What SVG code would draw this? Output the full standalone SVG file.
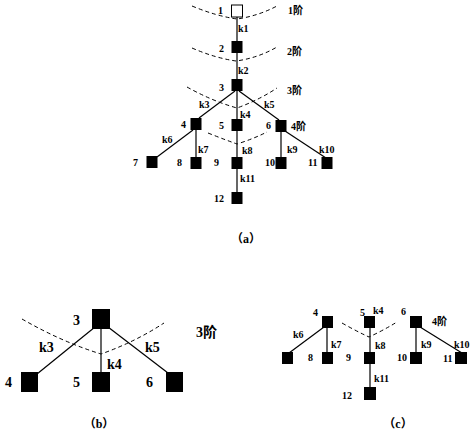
<svg xmlns="http://www.w3.org/2000/svg" width="474" height="435" viewBox="0 0 474 435">
<style>
text{font-family:"Liberation Serif","Noto Sans CJK SC",serif;font-weight:bold;fill:#000}
.s{font-size:10px}
.m{font-size:14px}
.c{font-size:12px}
.n{fill:#000}
.e{stroke:#000;stroke-width:1.2;fill:none}
.d{stroke:#000;stroke-width:1;fill:none;stroke-dasharray:4,3}
</style>
<rect width="474" height="435" fill="#fff"/>
<g id="connectors">
<line class="e" x1="237" y1="17" x2="237" y2="41"/>
<line class="e" x1="237" y1="53" x2="237" y2="79"/>
<line class="e" x1="235" y1="91" x2="199" y2="118"/>
<line class="e" x1="237" y1="91" x2="237" y2="119"/>
<line class="e" x1="239" y1="91" x2="279" y2="120"/>
<line class="e" x1="193" y1="130" x2="157" y2="157"/>
<line class="e" x1="196" y1="130" x2="196" y2="157"/>
<line class="e" x1="237" y1="131" x2="237" y2="157"/>
<line class="e" x1="281" y1="132" x2="281" y2="157"/>
<line class="e" x1="285" y1="131" x2="326" y2="158"/>
<line class="e" x1="237" y1="168" x2="237" y2="192"/>
<path class="d" d="M192,6 Q216,16 237,19 Q258,16 277,6"/>
<path class="d" d="M192,48 Q215,58 236,61 Q258,58 277,47"/>
<path class="d" d="M187,87 Q212,101 237,108 Q259,100 277,88"/>
<path class="d" d="M208,133 Q223,139 237,144 Q253,139 267,132"/>
<line class="e" x1="95" y1="327" x2="37" y2="374"/>
<line class="e" x1="101" y1="329" x2="101" y2="372"/>
<line class="e" x1="108" y1="327" x2="168" y2="373"/>
<path class="d" d="M22,319 Q62,342 101,354 Q135,342 164,323"/>
<line class="e" x1="324" y1="327" x2="289" y2="353"/>
<line class="e" x1="327" y1="328" x2="327" y2="352"/>
<line class="e" x1="370" y1="328" x2="370" y2="352"/>
<line class="e" x1="420" y1="327" x2="462" y2="353"/>
<line class="e" x1="416" y1="328" x2="416" y2="352"/>
<line class="e" x1="370" y1="364" x2="370" y2="387"/>
<path class="d" d="M342,323 Q356,331 369,337 Q384,330 397,322"/>
</g>
<g id="a1"><rect x="231.5" y="5" width="11" height="12" fill="#fff" stroke="#000" stroke-width="1"/></g>
<g id="a2"><rect class="n" x="231.5" y="41" width="11" height="12"/></g>
<g id="a3"><rect class="n" x="231.5" y="79" width="11" height="12"/></g>
<g id="a4"><rect class="n" x="190.5" y="118" width="11" height="12"/></g>
<g id="a5"><rect class="n" x="231.5" y="119" width="11" height="12"/></g>
<g id="a6"><rect class="n" x="275.5" y="120" width="11" height="12"/></g>
<g id="a7"><rect class="n" x="146.5" y="156" width="11" height="12"/></g>
<g id="a8"><rect class="n" x="190.5" y="157" width="11" height="12"/></g>
<g id="a9"><rect class="n" x="231.5" y="157" width="11" height="12"/></g>
<g id="a10"><rect class="n" x="275.5" y="157" width="11" height="12"/></g>
<g id="a11"><rect class="n" x="321.5" y="157" width="11" height="12"/></g>
<g id="a12"><rect class="n" x="231.5" y="192" width="11" height="12"/></g>
<g id="b3"><rect class="n" x="92" y="309" width="18" height="20"/></g>
<g id="b4"><rect class="n" x="21" y="372" width="17" height="20"/></g>
<g id="b5"><rect class="n" x="92" y="372" width="18" height="20"/></g>
<g id="b6"><rect class="n" x="166" y="372" width="17" height="20"/></g>
<g id="c4"><rect class="n" x="322" y="316" width="11" height="12"/></g>
<g id="c5"><rect class="n" x="364" y="316" width="11" height="12"/></g>
<g id="c6"><rect class="n" x="410" y="316" width="12" height="12"/></g>
<g id="c7"><rect class="n" x="282" y="352" width="11" height="12"/></g>
<g id="c8"><rect class="n" x="322" y="352" width="11" height="12"/></g>
<g id="c9"><rect class="n" x="364" y="352" width="11" height="12"/></g>
<g id="c10"><rect class="n" x="410" y="352" width="12" height="12"/></g>
<g id="c11"><rect class="n" x="455" y="352" width="12" height="12"/></g>
<g id="c12"><rect class="n" x="364" y="387" width="12" height="13"/></g>
<g id="labels-a">
<text class="s" x="218" y="14">1</text>
<text class="s" x="288" y="14">1阶</text>
<text class="s" x="238" y="32">k1</text>
<text class="s" x="219" y="52">2</text>
<text class="s" x="287" y="55">2阶</text>
<text class="s" x="238" y="74">k2</text>
<text class="s" x="219" y="91">3</text>
<text class="s" x="287" y="94">3阶</text>
<text class="s" x="199" y="108">k3</text>
<text class="s" x="264" y="108">k5</text>
<text class="s" x="240" y="118">k4</text>
<text class="s" x="181" y="128">4</text>
<text class="s" x="219" y="129">5</text>
<text class="s" x="266" y="129">6</text>
<text class="s" x="291" y="130">4阶</text>
<text class="s" x="162" y="143">k6</text>
<text class="s" x="198" y="153">k7</text>
<text class="s" x="242" y="154">k8</text>
<text class="s" x="287" y="153">k9</text>
<text class="s" x="319" y="153">k10</text>
<text class="s" x="133" y="166">7</text>
<text class="s" x="177" y="166">8</text>
<text class="s" x="214" y="166">9</text>
<text class="s" x="265" y="166">10</text>
<text class="s" x="308" y="166">11</text>
<text class="s" x="240" y="182">k11</text>
<text class="s" x="214" y="202">12</text>
<text class="c" x="246" y="243" text-anchor="middle">（a）</text>
</g>
<g id="labels-b">
<text class="m" x="73" y="325">3</text>
<text class="m" x="196" y="337">3阶</text>
<text class="m" x="39" y="352">k3</text>
<text class="m" x="107" y="369">k4</text>
<text class="m" x="145" y="352">k5</text>
<text class="m" x="5" y="387">4</text>
<text class="m" x="73" y="387">5</text>
<text class="m" x="146" y="387">6</text>
<text class="c" x="99" y="428" text-anchor="middle">（b）</text>
</g>
<g id="labels-c">
<text class="s" x="313" y="316">4</text>
<text class="s" x="360" y="316">5</text>
<text class="s" x="373" y="314">k4</text>
<text class="s" x="401" y="315">6</text>
<text class="s" x="432" y="325">4阶</text>
<text class="s" x="293" y="338">k6</text>
<text class="s" x="331" y="348">k7</text>
<text class="s" x="375" y="349">k8</text>
<text class="s" x="421" y="348">k9</text>
<text class="s" x="454" y="348">k10</text>
<text class="s" x="308" y="361">8</text>
<text class="s" x="346" y="361">9</text>
<text class="s" x="397" y="361">10</text>
<text class="s" x="443" y="362">11</text>
<text class="s" x="374" y="382">k11</text>
<text class="s" x="342" y="399">12</text>
<text class="c" x="398" y="428" text-anchor="middle">（c）</text>
</g>
</svg>
